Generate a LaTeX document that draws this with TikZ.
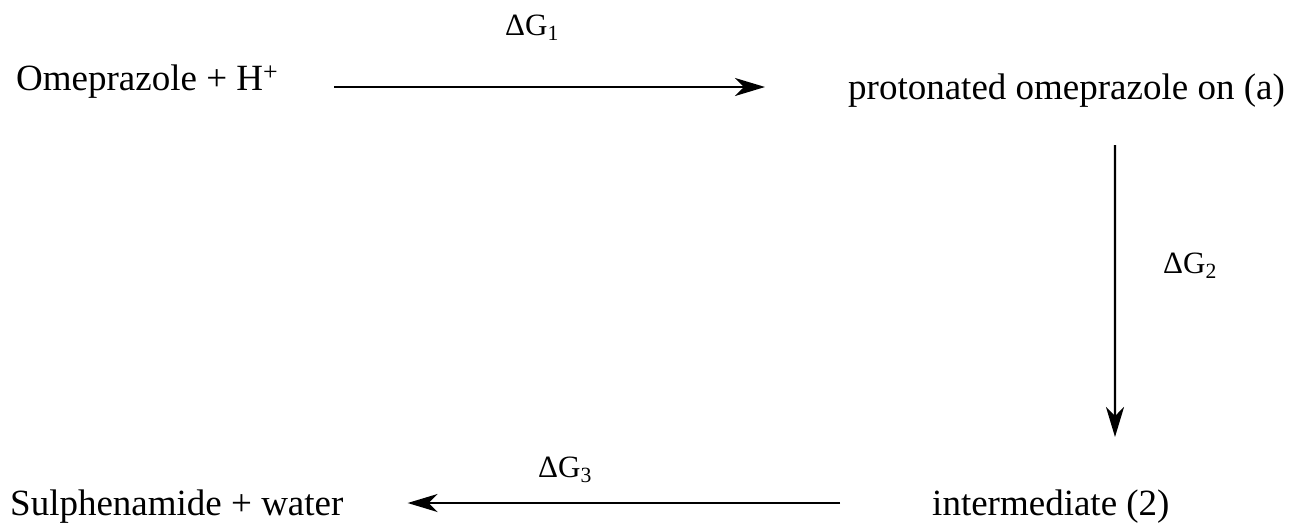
\documentclass[tikz,border=0pt]{standalone}
\usepackage{fontspec}
\setmainfont{Liberation Serif}
\usetikzlibrary{arrows.meta}

\begin{document}
\begin{tikzpicture}[x=1pt, y=-1pt,
  species/.style={inner sep=0pt, anchor=base west, font=\fontsize{37}{44}\selectfont},
  energy/.style={inner sep=0pt, anchor=base west, font=\fontsize{31}{37}\selectfont},
  rxn/.style={line width=2.4pt, -{Stealth[length=30pt, width=18pt, inset=9pt]}}]
  \useasboundingbox (0,0) rectangle (1289,523);

  % reaction species
  \node[species] (om)    at (16,90)   {Omeprazole + H\textsuperscript{+}};
  \node[species] (prot)  at (848,99)  {protonated omeprazole on (a)};
  \node[species] (inter) at (932,515) {intermediate (2)};
  \node[species] (sul)   at (10,515)  {Sulphenamide + water};

  % free-energy labels
  \node[energy] (g1) at (505,35)   {ΔG\textsubscript{1}};
  \node[energy] (g2) at (1163,273) {ΔG\textsubscript{2}};
  \node[energy] (g3) at (538,477)  {ΔG\textsubscript{3}};

  % reaction steps
  \draw[rxn] ([xshift=56pt,yshift=3pt]om.base east)
          -- ([xshift=-83pt,yshift=12pt]prot.base west);
  \draw[rxn] ([xshift=-170pt,yshift=-46pt]prot.base east)
          -- ([xshift=183pt,yshift=78pt]inter.base west);
  \draw[rxn] ([xshift=-92pt,yshift=12pt]inter.base west)
          -- ([xshift=64pt,yshift=12pt]sul.base east);
\end{tikzpicture}
\end{document}
